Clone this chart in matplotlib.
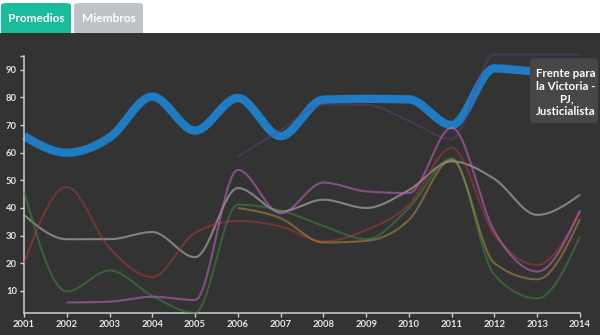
import numpy as np
import matplotlib
matplotlib.use("Agg")
import matplotlib.pyplot as plt
from matplotlib.patches import FancyBboxPatch, Rectangle

nan = np.nan
years = list(range(2001, 2015))

# main party (promedio)
fpv = [66, 60, 65.5, 80.3, 68, 79.8, 66, 79.2, 79.5, 79.3, 70, 90.5, 89.5, 89.5]

# other parties
gray_s = [37.5, 28.7, 28.7, 31.3, 22.2, 47.2, 38.7, 43, 40, 46.5, 56.9, 50.5, 37.5, 44.8]
red_s = [20, 47.6, 25.5, 15, 31, 35.3, 33.3, 27.9, 32, 41.2, 61.7, 30.3, 19.4, 38.7]
green_s = [46, 9.8, 17.4, 8.2, 2, 41.2, 39.1, 33.5, 28.7, 40, 58, 15.8, 7.3, 29.7]
tan_s = [nan, nan, nan, nan, nan, 40, 36.3, 27.5, 28.1, 35.7, 57.5, 20, 14.2, 36]
purple_s = [nan, 5.8, 6.1, 7.9, 6.7, 53.8, 38.1, 49.2, 46, 45.4, 69, 31.5, 17, 39.1]
dpurple_s = [nan, nan, nan, nan, nan, 58.7, 68.2, 77.4, 77.4, 71.5, 65, 95.5, 95.5, 95.5]

yticks = [10, 20, 30, 40, 50, 60, 70, 80, 90]
tooltip = "Frente para\nla Victoria -\nPJ,\nJusticialista"


def monotone(x, y, n=30):
    # monotone cubic (d3 curveMonotoneX style) for smooth drawing
    x = np.asarray(x, float)
    y = np.asarray(y, float)
    if len(x) < 3:
        return x, y
    h = np.diff(x)
    s = np.diff(y) / h
    t = np.zeros(len(x))
    for i in range(1, len(x) - 1):
        s0, s1 = s[i - 1], s[i]
        p = (s0 * h[i] + s1 * h[i - 1]) / (h[i - 1] + h[i])
        t[i] = (np.sign(s0) + np.sign(s1)) * min(abs(s0), abs(s1), 0.5 * abs(p))
    t[0] = (3 * s[0] - t[1]) / 2
    t[-1] = (3 * s[-1] - t[-2]) / 2
    xs, ys = [], []
    for i in range(len(x) - 1):
        u = np.linspace(0, 1, n)
        h00 = 2 * u**3 - 3 * u**2 + 1
        h10 = u**3 - 2 * u**2 + u
        h01 = -2 * u**3 + 3 * u**2
        h11 = u**3 - u**2
        xs.append(x[i] + u * h[i])
        ys.append(h00 * y[i] + h10 * h[i] * t[i] + h01 * y[i + 1] + h11 * h[i] * t[i + 1])
    return np.concatenate(xs), np.concatenate(ys)


def draw(ax, vals, **kw):
    v = np.array(vals, float)
    ok = ~np.isnan(v)
    xs, ys = monotone(np.array(years)[ok], v[ok])
    ax.plot(xs, ys, solid_capstyle="butt", clip_on=False, **kw)


BG = "#333333"
fig = plt.figure(figsize=(6, 3.35), dpi=100, facecolor="white")
W, H = 600, 335

# tabs on top
fig.patches.append(FancyBboxPatch((1 / W, 1 - 40 / H), 70 / W, 37 / H,
                                  boxstyle="round,pad=0,rounding_size=0.008",
                                  transform=fig.transFigure, fc="#1abc9c", ec="none", zorder=-3))
fig.patches.append(FancyBboxPatch((74 / W, 1 - 40 / H), 69 / W, 37 / H,
                                  boxstyle="round,pad=0,rounding_size=0.008",
                                  transform=fig.transFigure, fc="#bdc3c7", ec="none", zorder=-3))
fig.text(36 / W, 1 - 18.5 / H, "Promedios", color="white", fontsize=8.6, fontfamily="Lato",
         fontweight="bold", ha="center", va="center")
fig.text(108.5 / W, 1 - 18.5 / H, "Miembros", color="white", fontsize=8.6, fontfamily="Lato",
         fontweight="bold", ha="center", va="center")
fig.patches.append(Rectangle((0, 0), 1, 1 - 33 / H, transform=fig.transFigure,
                             fc=BG, ec="none", zorder=-2))

ax = fig.add_axes([24 / W, 1 - 313 / H, 556 / W, 257 / H])
ax.set_facecolor("none")
ax.set_xlim(2001, 2014)
ax.set_ylim(2, 95)

draw(ax, fpv, color="#1f7cc2", lw=6.0, zorder=2)
draw(ax, dpurple_s, color=(0.42, 0.25, 0.55, 0.45), lw=1.3, zorder=3)
draw(ax, gray_s, color=(0.72, 0.72, 0.72, 0.6), lw=1.5, zorder=3)
draw(ax, red_s, color=(0.7, 0.22, 0.22, 0.5), lw=1.5, zorder=3)
draw(ax, green_s, color=(0.25, 0.56, 0.25, 0.5), lw=1.5, zorder=3)
draw(ax, tan_s, color=(0.69, 0.56, 0.25, 0.55), lw=1.5, zorder=3)
draw(ax, purple_s, color=(0.75, 0.38, 0.75, 0.6), lw=1.5, zorder=4)

for side in ("top", "right"):
    ax.spines[side].set_visible(False)
for side in ("left", "bottom"):
    ax.spines[side].set_color("#cfcfcf")
    ax.spines[side].set_linewidth(1.1)

ax.set_xticks(years)
ax.set_xticklabels([str(y) for y in years])
ax.set_yticks(yticks)
ax.set_yticks([95], minor=True)
ax.tick_params(axis="both", colors="#cfcfcf", labelcolor="#e6e6e6", length=3, width=1,
               labelsize=6.8, pad=2)
ax.tick_params(axis="y", which="minor", colors="#cfcfcf", length=3, width=1)
for lab in ax.get_xticklabels() + ax.get_yticklabels():
    lab.set_fontfamily("Lato")
    lab.set_fontweight("bold")

# tooltip box
fig.patches.append(FancyBboxPatch((530 / W, 1 - 123 / H), 68 / W, 65 / H,
                                  boxstyle="round,pad=0,rounding_size=0.008",
                                  transform=fig.transFigure, fc="#474747", ec="none", zorder=5))
fig.text(566 / W, 1 - 92.5 / H, tooltip, color="white", fontsize=8.3, fontfamily="Lato",
         fontweight="bold", ha="center", va="center", linespacing=1.15, zorder=6)

fig.savefig("out.png", dpi=100, facecolor="white")
